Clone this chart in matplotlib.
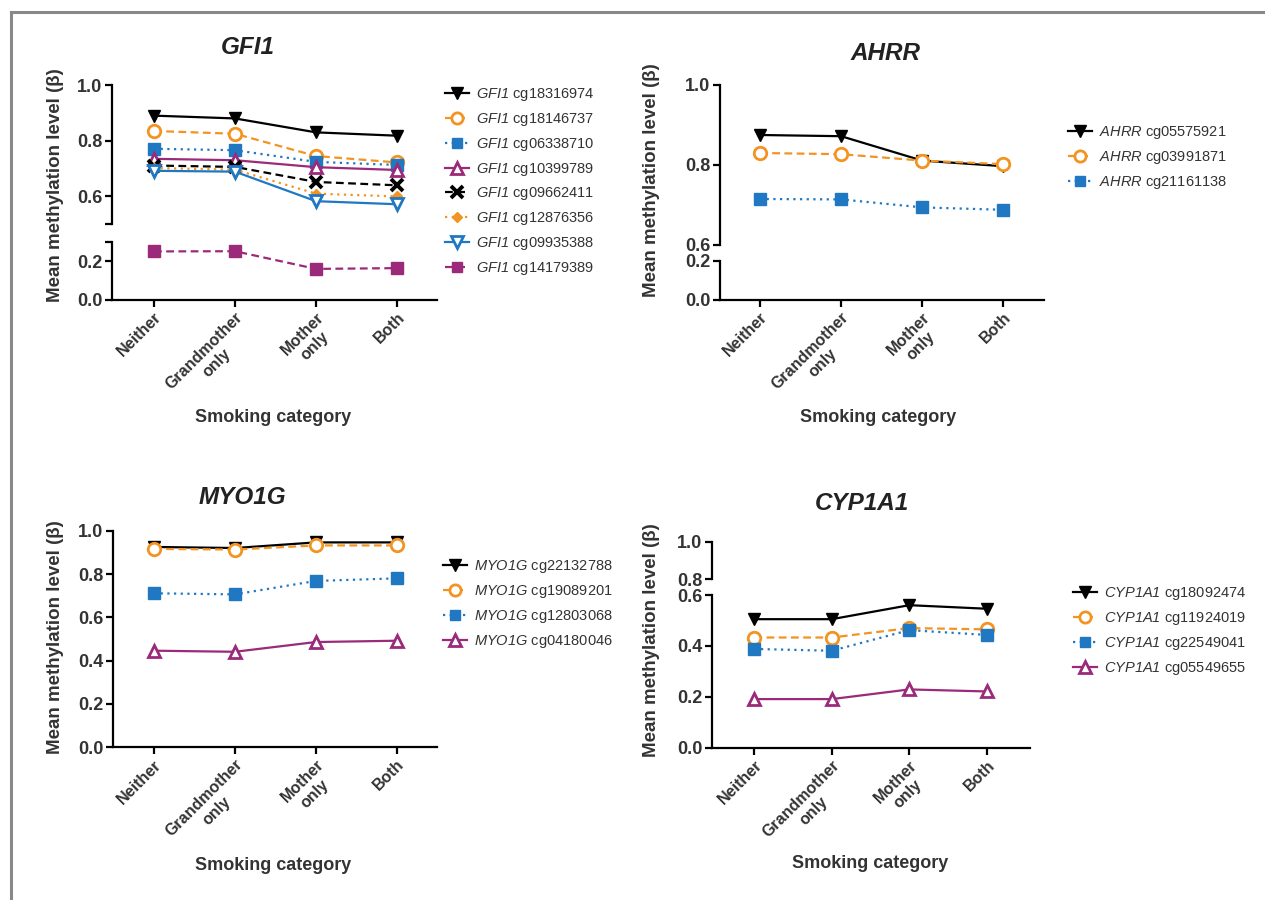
import matplotlib
matplotlib.use("Agg")
import matplotlib.pyplot as plt
from matplotlib.lines import Line2D

plt.rcParams['font.family'] = ['Liberation Sans', 'DejaVu Sans']
plt.rcParams['mathtext.fontset'] = 'custom'
plt.rcParams['mathtext.it'] = 'Liberation Sans:italic'
plt.rcParams['mathtext.rm'] = 'Liberation Sans:italic'

categories = ["Neither", "Grandmother\nonly", "Mother\nonly", "Both"]

# ---- GFI1 ----
gfi1_probes = ["cg18316974", "cg18146737", "cg06338710", "cg10399789",
               "cg09662411", "cg12876356", "cg09935388", "cg14179389"]
gfi1_cg18316974 = [0.890, 0.880, 0.830, 0.818]
gfi1_cg18146737 = [0.835, 0.825, 0.745, 0.722]
gfi1_cg06338710 = [0.771, 0.766, 0.724, 0.713]
gfi1_cg10399789 = [0.735, 0.730, 0.705, 0.695]
gfi1_cg09662411 = [0.711, 0.706, 0.652, 0.640]
gfi1_cg12876356 = [0.702, 0.696, 0.610, 0.600]
gfi1_cg09935388 = [0.692, 0.689, 0.583, 0.572]
gfi1_cg14179389 = [0.250, 0.251, 0.160, 0.164]

# ---- AHRR ----
ahrr_probes = ["cg05575921", "cg03991871", "cg21161138"]
ahrr_cg05575921 = [0.875, 0.872, 0.811, 0.797]
ahrr_cg03991871 = [0.830, 0.827, 0.811, 0.802]
ahrr_cg21161138 = [0.715, 0.714, 0.694, 0.688]

# ---- MYO1G ----
myo1g_probes = ["cg22132788", "cg19089201", "cg12803068", "cg04180046"]
myo1g_cg22132788 = [0.925, 0.920, 0.946, 0.946]
myo1g_cg19089201 = [0.916, 0.913, 0.932, 0.932]
myo1g_cg12803068 = [0.711, 0.706, 0.768, 0.780]
myo1g_cg04180046 = [0.446, 0.441, 0.486, 0.492]

# ---- CYP1A1 ----
cyp1a1_probes = ["cg18092474", "cg11924019", "cg22549041", "cg05549655"]
cyp1a1_cg18092474 = [0.505, 0.505, 0.560, 0.546]
cyp1a1_cg11924019 = [0.433, 0.433, 0.470, 0.465]
cyp1a1_cg22549041 = [0.388, 0.381, 0.462, 0.443]
cyp1a1_cg05549655 = [0.191, 0.191, 0.229, 0.221]

BLACK = "#000000"
ORANGE = "#F39322"
BLUE = "#1F78C1"
PURPLE = "#9B2A7B"
TXT = "#333333"

styles = {
    "tri_down_black": dict(color=BLACK, ls="-", marker="v", ms=9, mfc=BLACK, mec=BLACK),
    "circ_orange": dict(color=ORANGE, ls=(0, (3.5, 2)), marker="o", ms=9, mfc="white", mec=ORANGE, mew=2),
    "sq_blue": dict(color=BLUE, ls=(0, (1, 2)), marker="s", ms=8, mfc=BLUE, mec=BLUE),
    "tri_up_purple": dict(color=PURPLE, ls="-", marker="^", ms=9, mfc="white", mec=PURPLE, mew=2),
    "x_black": dict(color=BLACK, ls=(0, (3.5, 2)), marker="x", ms=9, mec=BLACK, mew=2.8),
    "dia_orange": dict(color=ORANGE, ls=(0, (1, 2)), marker="D", ms=5.5, mfc=ORANGE, mec=ORANGE),
    "tri_down_blue": dict(color=BLUE, ls="-", marker="v", ms=9, mfc="white", mec=BLUE, mew=2),
    "sq_purple": dict(color=PURPLE, ls=(0, (3.5, 2)), marker="s", ms=8, mfc=PURPLE, mec=PURPLE),
}

W, H = 1265, 900
fig = plt.figure(figsize=(W / 100, H / 100), dpi=100)
fig.patch.set_facecolor("white")

# gray frame (top and left)
fig.add_artist(Line2D([10.5 / W, 10.5 / W], [0, 1 - 11.5 / H], transform=fig.transFigure, color="#888888", lw=2.2))
fig.add_artist(Line2D([10.5 / W, 1], [1 - 11.5 / H, 1 - 11.5 / H], transform=fig.transFigure, color="#888888", lw=2.2))

xs = list(range(len(categories)))


def px_axes(x0, x1, ytop, ybot):
    return fig.add_axes([x0 / W, 1 - ybot / H, (x1 - x0) / W, (ybot - ytop) / H])


def style_ax(ax, bottom):
    for s in ["top", "right"]:
        ax.spines[s].set_visible(False)
    ax.spines["left"].set_linewidth(1.6)
    ax.spines["bottom"].set_linewidth(1.6)
    ax.tick_params(axis="y", length=5, width=1.6, labelsize=13, labelcolor=TXT, pad=2)
    for lab in ax.get_yticklabels():
        lab.set_fontweight("bold")
    ax.set_facecolor("none")
    if bottom:
        ax.tick_params(axis="x", length=5, width=1.6, pad=2)
        ax.set_xticks(xs)
        ax.set_xticklabels(categories, rotation=45, ha="right", va="top",
                           rotation_mode="anchor", fontsize=11.5, fontweight="bold",
                           color=TXT, multialignment="center")
    else:
        ax.spines["bottom"].set_visible(False)
        ax.tick_params(axis="x", bottom=False, labelbottom=False)


def make_panel(xpix, npix, spacing, segments, series, style_keys, gene,
               title_xy, ylab_xy, xlab_xy):
    x0, x1 = xpix
    xlim = ((x0 - npix) / spacing, (x1 - npix) / spacing)
    axes = []
    for i, (ytop, ybot, lo, hi, ticks, labels) in enumerate(segments):
        ax = px_axes(x0, x1, ytop, ybot)
        ax.set_xlim(*xlim)
        ax.set_ylim(lo, hi)
        ax.set_yticks(ticks)
        ax.set_yticklabels(labels)
        axes.append(ax)
        style_ax(ax, bottom=(i == len(segments) - 1))
    handles = []
    for vals, key in zip(series, style_keys):
        st = dict(styles[key])
        for ax in axes:
            ax.plot(xs, vals, lw=1.6, clip_on=True, **st)
        handles.append(Line2D([], [], lw=1.6, **st))
    fig.text(title_xy[0] / W, 1 - title_xy[1] / H, gene, fontsize=17.5, fontweight="bold",
             fontstyle="italic", ha="center", va="center", color="#222222")
    fig.text(ylab_xy[0] / W, 1 - ylab_xy[1] / H, "Mean methylation level (β)", rotation=90,
             fontsize=13.5, fontweight="bold", ha="center", va="center", color=TXT)
    fig.text(xlab_xy[0] / W, 1 - xlab_xy[1] / H, "Smoking category", fontsize=13,
             fontweight="bold", ha="center", va="center", color=TXT)
    return handles


def add_legend(handles, gene, probes, leg_xy):
    labels = [r"$\mathit{%s}$ %s" % (gene, p) for p in probes]
    fig.legend(handles, labels, loc="upper left",
               bbox_to_anchor=(leg_xy[0] / W, 1 - leg_xy[1] / H),
               bbox_transform=fig.transFigure, frameon=False, fontsize=10.5,
               labelspacing=0.54, handlelength=1.65, handletextpad=0.5,
               borderpad=0, borderaxespad=0, labelcolor=TXT, markerscale=0.9)


# GFI1
h = make_panel((112, 437), 154, 81,
               [(85, 224.3, 0.5, 1.0, [0.5, 0.6, 0.8, 1.0], ["", "0.6", "0.8", "1.0"]),
                (241.7, 300, 0.0, 0.3, [0.0, 0.2, 0.3], ["0.0", "0.2", ""])],
               [gfi1_cg18316974, gfi1_cg18146737, gfi1_cg06338710, gfi1_cg10399789,
                gfi1_cg09662411, gfi1_cg12876356, gfi1_cg09935388, gfi1_cg14179389],
               ["tri_down_black", "circ_orange", "sq_blue", "tri_up_purple",
                "x_black", "dia_orange", "tri_down_blue", "sq_purple"],
               "GFI1", (248, 47), (56, 185), (273, 417))
add_legend(h, "GFI1", gfi1_probes, (445, 86))

# AHRR
h = make_panel((720, 1044), 760, 81.1,
               [(85, 245, 0.6, 1.0, [0.6, 0.8, 1.0], ["0.6", "0.8", "1.0"]),
                (261, 300, 0.0, 0.2, [0.0, 0.2], ["0.0", "0.2"])],
               [ahrr_cg05575921, ahrr_cg03991871, ahrr_cg21161138],
               ["tri_down_black", "circ_orange", "sq_blue"],
               "AHRR", (886, 53), (652, 180), (878, 417))
add_legend(h, "AHRR", ahrr_probes, (1068, 124))

# MYO1G
h = make_panel((113, 437), 154, 80.9,
               [(530.7, 747.3, 0.0, 1.0, [0.0, 0.2, 0.4, 0.6, 0.8, 1.0],
                 ["0.0", "0.2", "0.4", "0.6", "0.8", "1.0"])],
               [myo1g_cg22132788, myo1g_cg19089201, myo1g_cg12803068, myo1g_cg04180046],
               ["tri_down_black", "circ_orange", "sq_blue", "tri_up_purple"],
               "MYO1G", (242, 498), (56, 637), (273, 865))
add_legend(h, "MYO1G", myo1g_probes, (443, 558))

# CYP1A1
h = make_panel((712, 1030), 754.3, 77.5,
               [(541.7, 579.3, 0.8, 1.0, [0.8, 1.0], ["0.8", "1.0"]),
                (595, 747.7, 0.0, 0.6, [0.0, 0.2, 0.4, 0.6], ["0.0", "0.2", "0.4", "0.6"])],
               [cyp1a1_cg18092474, cyp1a1_cg11924019, cyp1a1_cg22549041, cyp1a1_cg05549655],
               ["tri_down_black", "circ_orange", "sq_blue", "tri_up_purple"],
               "CYP1A1", (862, 503), (651, 640), (870, 863))
add_legend(h, "CYP1A1", cyp1a1_probes, (1073, 585))

fig.savefig("out.png", dpi=100, facecolor="white")
